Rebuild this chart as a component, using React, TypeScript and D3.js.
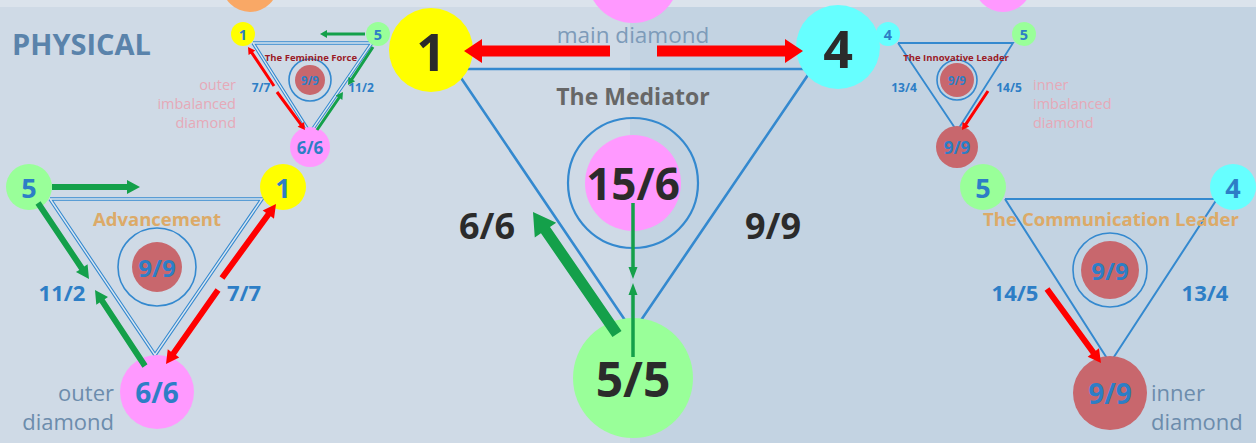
import React from 'react';
import * as d3 from 'd3';

const W = 1256;
const H = 443;

// values
const feminineVertices = ['1', '5', '6/6'];
const feminineSides = ['7/7', '11/2'];
const advancementVertices = ['5', '1', '6/6'];
const advancementSides = ['11/2', '7/7'];
const mediatorVertices = ['1', '4', '5/5'];
const mediatorSides = ['6/6', '9/9'];
const innovativeVertices = ['4', '5', '9/9'];
const innovativeSides = ['13/4', '14/5'];
const communicationVertices = ['5', '4', '9/9'];
const communicationSides = ['14/5', '13/4'];
const centerValues = ['9/9', '9/9', '15/6', '9/9', '9/9'];
const titles = ['The Feminine Force', 'Advancement', 'The Mediator', 'The Innovative Leader', 'The Communication Leader'];
const outerImbalancedNote = ['outer', 'imbalanced', 'diamond'];
const innerImbalancedNote = ['inner', 'imbalanced', 'diamond'];
const outerNote = ['outer', 'diamond'];
const innerNote = ['inner', 'diamond'];
const mainNote = 'main diamond';
const sectionLabel = 'PHYSICAL';

const C = {
  yellow: '#ffff00',
  green: '#99ff99',
  cyan: '#66ffff',
  pink: '#ff99ff',
  rose: '#c8676d',
  orange: '#f9a866',
  blue: '#2d7ec6',
  line: '#3489cf',
  dark: '#2b2b2b',
  red: '#ff0000',
  arrowGreen: '#14a04a',
};

type P = [number, number];
interface Arrow { from: P; to: P; w: number; hw: number; hl: number; color: string }
interface Panel {
  vertices: string[];
  sides: string[];
  center: string;
  title: string;
  tri: P[];
  double: boolean;
  lineW: number;
  vPos: P[];
  vR: number[];
  vFill: string[];
  vFs: number[];
  vColor: string;
  cPos: P;
  ring: number;
  disc: number;
  discFill: string;
  cFs: number;
  cColor: string;
  sPos: P[];
  sFs: number;
  sColor: string;
  tPos: P;
  tFs: number;
  tColor: string;
  arrows: Arrow[];
}

const G = (from: P, to: P, w: number, hw: number, hl: number): Arrow => ({ from, to, w, hw, hl, color: C.arrowGreen });
const R = (from: P, to: P, w: number, hw: number, hl: number): Arrow => ({ from, to, w, hw, hl, color: C.red });

const panels: Panel[] = [
  {
    vertices: feminineVertices, sides: feminineSides, center: centerValues[0], title: titles[0],
    tri: [[253, 43], [372, 43], [310, 133]], double: true, lineW: 3.4,
    vPos: [[243, 34], [378, 34], [310, 147]], vR: [12, 12, 20], vFill: [C.yellow, C.green, C.pink], vFs: [14.5, 14.5, 17], vColor: C.blue,
    cPos: [310, 80], ring: 21, disc: 15, discFill: C.rose, cFs: 11.5, cColor: C.blue,
    sPos: [[261, 87], [361, 87]], sFs: 12, sColor: C.blue,
    tPos: [311, 57], tFs: 9.5, tColor: '#9b1b27',
    arrows: [
      G([365, 34], [320, 34], 3, 8, 7),
      R([274, 86], [248, 47], 3, 8, 7),
      R([277, 92], [305, 130], 3, 8, 7),
      G([373, 47], [348, 85], 3, 8, 7),
      G([317, 130], [343, 92], 3, 8, 7),
    ],
  },
  {
    vertices: advancementVertices, sides: advancementSides, center: centerValues[1], title: titles[1],
    tri: [[50, 199], [262, 199], [155, 355]], double: true, lineW: 3.6,
    vPos: [[29, 187], [283, 187], [157, 392]], vR: [23, 23, 37], vFill: [C.green, C.yellow, C.pink], vFs: [27, 27, 28], vColor: C.blue,
    cPos: [157, 267], ring: 39, disc: 25, discFill: C.rose, cFs: 24, cColor: C.blue,
    sPos: [[62, 292], [244, 292]], sFs: 22, sColor: C.blue,
    tPos: [157, 218], tFs: 18.5, tColor: '#dcaa68',
    arrows: [
      G([52, 187], [140, 187], 6, 14, 13),
      G([38, 203], [89, 279], 6, 14, 13),
      G([145, 366], [95, 290], 6, 14, 13),
      R([222, 278], [276, 204], 6, 14, 13),
      R([218, 290], [166, 364], 6, 14, 13),
    ],
  },
  {
    vertices: mediatorVertices, sides: mediatorSides, center: centerValues[2], title: titles[2],
    tri: [[455, 69], [812, 69], [633, 332]], double: false, lineW: 2.6,
    vPos: [[431, 50], [838, 47], [633, 378]], vR: [42, 42, 60], vFill: [C.yellow, C.cyan, C.green], vFs: [52, 52, 48], vColor: C.dark,
    cPos: [633, 183], ring: 65, disc: 48, discFill: C.pink, cFs: 44, cColor: C.dark,
    sPos: [[487, 225], [773, 225]], sFs: 36, sColor: C.dark,
    tPos: [633, 96], tFs: 23, tColor: '#676767',
    arrows: [
      R([610, 51], [464, 51], 11, 24, 18),
      R([657, 51], [803, 51], 11, 24, 18),
      G([617, 334], [533, 212], 11, 26, 22),
      G([633, 203], [633, 279], 3.5, 9, 12),
      G([633, 357], [633, 283], 3.5, 9, 12),
    ],
  },
  {
    vertices: innovativeVertices, sides: innovativeSides, center: centerValues[3], title: titles[3],
    tri: [[898, 43], [1013, 43], [957, 131]], double: false, lineW: 1.8,
    vPos: [[888, 34], [1024, 34], [957, 147]], vR: [12, 12, 21], vFill: [C.cyan, C.green, C.rose], vFs: [14.5, 14.5, 17], vColor: C.blue,
    cPos: [957, 80], ring: 20, disc: 17, discFill: C.rose, cFs: 11.5, cColor: C.blue,
    sPos: [[904, 87], [1009, 87]], sFs: 12, sColor: C.blue,
    tPos: [956, 57], tFs: 9.5, tColor: '#9b1b27',
    arrows: [R([988, 91], [962, 130], 3, 8, 7)],
  },
  {
    vertices: communicationVertices, sides: communicationSides, center: centerValues[4], title: titles[4],
    tri: [[1005, 199], [1217, 199], [1110, 363]], double: false, lineW: 2,
    vPos: [[983, 187], [1233, 187], [1110, 393]], vR: [23, 23, 37], vFill: [C.green, C.cyan, C.rose], vFs: [27, 27, 28], vColor: C.blue,
    cPos: [1110, 270], ring: 37, disc: 29, discFill: C.rose, cFs: 24, cColor: C.blue,
    sPos: [[1015, 292], [1205, 292]], sFs: 22, sColor: C.blue,
    tPos: [1111, 218], tFs: 18.6, tColor: '#dcaa68',
    arrows: [R([1047, 289], [1101, 363], 6, 14, 13)],
  },
];

// polygon for a block arrow from tail to tip
function arrowPath(a: Arrow): string {
  const [x1, y1] = a.from;
  const [x2, y2] = a.to;
  const len = Math.hypot(x2 - x1, y2 - y1);
  const ux = (x2 - x1) / len, uy = (y2 - y1) / len;
  const nx = -uy, ny = ux;
  const bx = x2 - ux * a.hl, by = y2 - uy * a.hl;
  const p = d3.path();
  p.moveTo(x1 + nx * a.w / 2, y1 + ny * a.w / 2);
  p.lineTo(bx + nx * a.w / 2, by + ny * a.w / 2);
  p.lineTo(bx + nx * a.hw / 2, by + ny * a.hw / 2);
  p.lineTo(x2, y2);
  p.lineTo(bx - nx * a.hw / 2, by - ny * a.hw / 2);
  p.lineTo(bx - nx * a.w / 2, by - ny * a.w / 2);
  p.lineTo(x1 - nx * a.w / 2, y1 - ny * a.w / 2);
  p.closePath();
  return p.toString();
}

const triLine = d3.line<P>().x(d => d[0]).y(d => d[1]);

const FONT = '"Open Sans", "DejaVu Sans", sans-serif';

const App: React.FC = () => {
  const t = (x: number, y: number, s: string, fs: number, fill: string, weight = 700, anchor = 'middle') => (
    <text x={x} y={y} fontSize={fs} fill={fill} fontWeight={weight} textAnchor={anchor} dominantBaseline="central" fontFamily={FONT}>{s}</text>
  );
  const noteLines = (x: number, y: number, lines: string[], fs: number, fill: string, anchor: string, gap: number) =>
    lines.map((line, i) => <g key={i}>{t(x, y + i * gap, line, fs, fill, 400, anchor)}</g>);

  return (
    <svg width={W} height={H} style={{ position: 'absolute', left: 0, top: 0 }}>
      <rect x={0} y={0} width={W} height={H} fill="#cfdae6" />
      <rect x={630} y={0} width={W - 630} height={H} fill="#c3d3e2" />
      <rect x={0} y={0} width={W} height={7} fill="#dbe3ec" />

      {/* circles cut off at the top */}
      <circle cx={250} cy={-16} r={28} fill={C.orange} />
      <circle cx={633} cy={-23} r={46} fill={C.pink} />
      <circle cx={1003} cy={-17} r={29} fill={C.pink} />

      {t(12, 43, sectionLabel, 29, '#5a83ab', 700, 'start')}
      {t(633, 34, mainNote, 22.5, '#7d9bb9', 400)}
      {noteLines(236, 84, outerImbalancedNote, 14.5, '#e6a9b8', 'end', 19)}
      {noteLines(1033, 84, innerImbalancedNote, 14.5, '#e6a9b8', 'start', 19)}
      {noteLines(114, 392, outerNote, 22, '#6c8cac', 'end', 29)}
      {noteLines(1151, 392, innerNote, 22, '#6c8cac', 'start', 29)}

      {panels.map((pn, i) => (
        <g key={i}>
          <path d={triLine([...pn.tri, pn.tri[0]]) || ''} fill="none" stroke={C.line} strokeWidth={pn.lineW} strokeLinejoin="miter" />
          {pn.double && (
            <path d={triLine([...pn.tri, pn.tri[0]]) || ''} fill="none" stroke="#dbe6f0" strokeWidth={pn.lineW * 0.4} />
          )}
          <circle cx={pn.cPos[0]} cy={pn.cPos[1]} r={pn.ring} fill="none" stroke={C.line} strokeWidth={i === 2 ? 2.2 : 1.6} />
          <circle cx={pn.cPos[0]} cy={pn.cPos[1]} r={pn.disc} fill={pn.discFill} />
          {t(pn.cPos[0], pn.cPos[1], pn.center, pn.cFs, pn.cColor)}
          {t(pn.tPos[0], pn.tPos[1], pn.title, pn.tFs, pn.tColor)}
          {pn.sides.map((s, k) => <g key={k}>{t(pn.sPos[k][0], pn.sPos[k][1], s, pn.sFs, pn.sColor)}</g>)}
          {pn.vertices.map((v, k) => (
            <g key={k}>
              <circle cx={pn.vPos[k][0]} cy={pn.vPos[k][1]} r={pn.vR[k]} fill={pn.vFill[k]} />
              {t(pn.vPos[k][0], pn.vPos[k][1], v, pn.vFs[k], pn.vColor)}
            </g>
          ))}
          {pn.arrows.map((a, k) => <path key={k} d={arrowPath(a)} fill={a.color} />)}
        </g>
      ))}
    </svg>
  );
};

export default App;
